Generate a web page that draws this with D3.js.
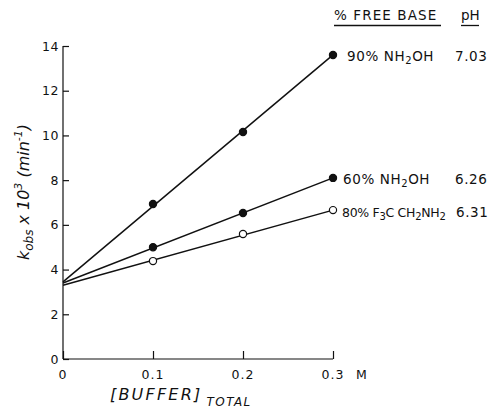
<!DOCTYPE html>
<html>
<head>
<meta charset="utf-8">
<script src="https://cdn.jsdelivr.net/npm/d3@7"></script>
<style>
  html, body { margin: 0; padding: 0; background: #fff; }
  svg { display: block; }
  text { font-family: "DejaVu Sans", "Liberation Sans", sans-serif; fill: #111; }
</style>
</head>
<body>
<svg id="chart" width="490" height="416"></svg>
<script>
// Buffer concentrations (M) at which k_obs was measured
const buffer = [0.1, 0.2, 0.3];

// Series: observed rate constants (k_obs x 10^3, min^-1)
// Names are split into [text, isSubscript] pieces
const seriesNames = [
  [["90% NH", false], ["2", true], ["OH", false]],
  [["60% NH", false], ["2", true], ["OH", false]],
  [["80% F", false], ["3", true], ["C CH", false], ["2", true], ["NH", false], ["2", true]]
];
const seriesPH = ["7.03", "6.26", "6.31"];
const seriesFilled = [true, true, false];
const kobs90 = [6.93, 10.15, 13.6];
const kobs60 = [5.0, 6.53, 8.1];
const kobs80 = [4.38, 5.59, 6.66];

// Linear fits: intercept at zero buffer and value at 0.3 M
const fitIntercept = [3.45, 3.4, 3.3];
const fitEnd = [13.6, 8.1, 6.66];

const xTicks = [0, 0.1, 0.2, 0.3];
const xTickLabels = ["0", "0.1", "0.2", "0.3"];
const yTicks = [0, 2, 4, 6, 8, 10, 12, 14];

const allSeries = [kobs90, kobs60, kobs80];

const svg = d3.select("#chart");
const x = d3.scaleLinear().domain([0, 0.3]).range([63, 333]);
const y = d3.scaleLinear().domain([0, 14]).range([359, 46]);

// Axes with inward ticks
const gy = svg.append("g").attr("transform", `translate(${x(0)},0)`)
  .call(d3.axisRight(y).tickValues(yTicks).tickSize(6).tickFormat(""));
gy.select(".domain").attr("d", `M0,${y(14)}V${y(0)}`);
const gx = svg.append("g").attr("transform", `translate(0,${y(0)})`)
  .call(d3.axisTop(x).tickValues(xTicks).tickSize(8).tickFormat(""));
gx.select(".domain").attr("d", `M${x(0)},0H${x(0.3)}`);
svg.selectAll(".domain, .tick line").attr("stroke", "#111").attr("stroke-width", 1.2);

// Tick labels
svg.append("g").selectAll("text").data(yTicks).join("text")
  .attr("x", x(0) - 4).attr("y", d => y(d)).attr("dy", "0.36em")
  .attr("text-anchor", "end").attr("font-size", 12.5).attr("letter-spacing", 0.5).text(d => d);
svg.append("g").selectAll("text").data(xTicks).join("text")
  .attr("x", d => x(d)).attr("y", y(0) + 20)
  .attr("text-anchor", "middle").attr("font-size", 12.5).attr("letter-spacing", 1)
  .text((d, i) => xTickLabels[i]);
svg.append("text").attr("x", 356).attr("y", y(0) + 20)
  .attr("font-size", 12.5).text("M");

// Fit lines
const line = d3.line().x(d => x(d[0])).y(d => y(d[1]));
allSeries.forEach((s, i) => {
  svg.append("path")
    .attr("d", line([[0, fitIntercept[i]], [0.3, fitEnd[i]]]))
    .attr("fill", "none").attr("stroke", "#111").attr("stroke-width", 1.5);
});

// Data points
allSeries.forEach((s, i) => {
  svg.append("g").selectAll("circle").data(s).join("circle")
    .attr("cx", (d, j) => x(buffer[j])).attr("cy", d => y(d))
    .attr("r", 3.6)
    .attr("fill", seriesFilled[i] ? "#111" : "#fff")
    .attr("stroke", "#111").attr("stroke-width", 1.2);
});

// Legend header
svg.append("text").attr("x", 334).attr("y", 20).attr("font-size", 13.5)
  .attr("letter-spacing", 1.1).text("% FREE BASE");
svg.append("line").attr("x1", 334).attr("x2", 441).attr("y1", 25.5).attr("y2", 25.5)
  .attr("stroke", "#111").attr("stroke-width", 1.3);
svg.append("text").attr("x", 461).attr("y", 20).attr("font-size", 13.5).text("pH");
svg.append("line").attr("x1", 461).attr("x2", 479).attr("y1", 25.5).attr("y2", 25.5)
  .attr("stroke", "#111").attr("stroke-width", 1.3);

// Series labels at line ends
const labelX = [347, 343, 342];
const phX = [455, 455, 456];
const labelDy = [1, 1, 1.5];
const labelSize = [13.5, 13.5, 12.5];
const labelSpacing = [0.6, 0.6, -0.3];
allSeries.forEach((s, i) => {
  const yy = y(s[s.length - 1]) + 5 + labelDy[i];
  const t = svg.append("text").attr("x", labelX[i]).attr("y", yy)
    .attr("font-size", labelSize[i]).attr("letter-spacing", labelSpacing[i]);
  let shift = 0;
  seriesNames[i].forEach(([str, sub]) => {
    const dy = sub ? 3 - shift : -shift;
    shift = sub ? 3 : 0;
    t.append("tspan").attr("dy", dy).attr("font-size", sub ? 10 : labelSize[i]).text(str);
  });
  svg.append("text").attr("x", phX[i]).attr("y", yy)
    .attr("font-size", 13.5).attr("letter-spacing", 0.6).text(seriesPH[i]);
});

// Y axis title
const yt = svg.append("text")
  .attr("transform", "translate(29,192) rotate(-90)")
  .attr("text-anchor", "middle").attr("font-size", 16).attr("font-style", "italic");
yt.append("tspan").text("k");
yt.append("tspan").attr("font-size", 12).attr("dy", 4).text("obs");
yt.append("tspan").attr("dy", -4).text("  x  10");
yt.append("tspan").attr("font-size", 11).attr("dy", -7).text("3");
yt.append("tspan").attr("dy", 7).text(" (min");
yt.append("tspan").attr("font-size", 11).attr("dy", -7).text("-1");
yt.append("tspan").attr("dy", 7).text(")");

// X axis title
const xt = svg.append("text").attr("x", 110).attr("y", 400)
  .attr("font-size", 16).attr("font-style", "italic").attr("letter-spacing", 2.2);
xt.append("tspan").text("[BUFFER]");
xt.append("tspan").attr("font-size", 12).attr("dx", 4).attr("dy", 6).attr("letter-spacing", 1.5).text("TOTAL");
</script>
</body>
</html>
